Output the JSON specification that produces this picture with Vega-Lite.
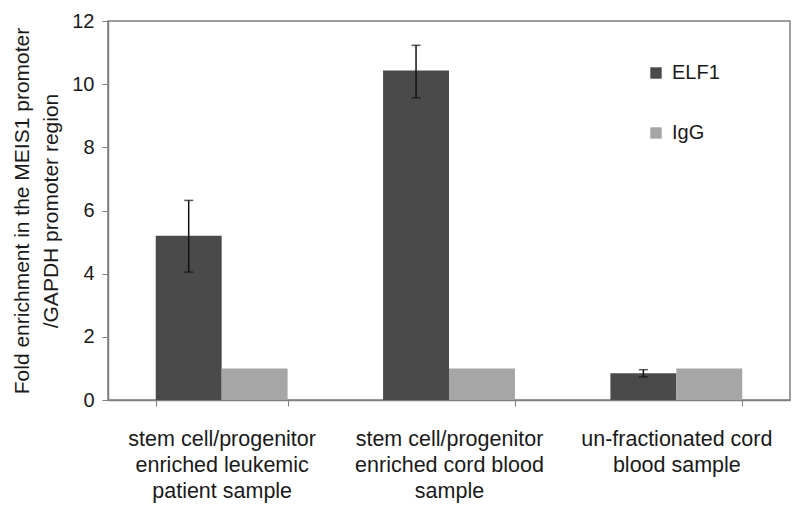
{
  "$schema": "https://vega.github.io/schema/vega-lite/v6.json",
  "width": 682,
  "height": 379,
  "autosize": "none",
  "padding": {"left": 108, "top": 21, "right": 10, "bottom": 112},
  "background": "white",
  "config": {
    "font": "Liberation Sans",
    "view": {"stroke": "#7f7f7f", "strokeWidth": 1.5}
  },
  "data": {
    "values": [
      {"sample": "stem cell/progenitor|enriched leukemic|patient sample", "antibody": "ELF1", "value": 5.2, "lo": 4.05, "hi": 6.32},
      {"sample": "stem cell/progenitor|enriched leukemic|patient sample", "antibody": "IgG", "value": 1.0},
      {"sample": "stem cell/progenitor|enriched cord blood|sample", "antibody": "ELF1", "value": 10.43, "lo": 9.57, "hi": 11.23},
      {"sample": "stem cell/progenitor|enriched cord blood|sample", "antibody": "IgG", "value": 1.0},
      {"sample": "un-fractionated cord|blood sample", "antibody": "ELF1", "value": 0.85, "lo": 0.73, "hi": 0.96},
      {"sample": "un-fractionated cord|blood sample", "antibody": "IgG", "value": 1.0}
    ]
  },
  "encoding": {
    "x": {
      "field": "sample",
      "type": "nominal",
      "sort": null,
      "scale": {"paddingInner": 0.42, "paddingOuter": 0.21},
      "axis": {
        "title": null,
        "labelAngle": 0,
        "labelExpr": "split(datum.label, '|')",
        "labelFontSize": 21.5,
        "labelColor": "#1a1a1a",
        "labelLineHeight": 26,
        "labelPadding": 22,
        "labelLimit": 300,
        "tickBand": "extent",
        "tickColor": "#7f7f7f",
        "tickSize": 6,
        "domainColor": "#7f7f7f",
        "domainWidth": 1.5
      }
    },
    "xOffset": {"field": "antibody", "type": "nominal", "scale": {"paddingInner": 0, "paddingOuter": 0}}
  },
  "layer": [
    {
      "mark": {"type": "bar"},
      "encoding": {
        "y": {
          "field": "value",
          "type": "quantitative",
          "scale": {"domain": [0, 12]},
          "axis": {
            "values": [0, 2, 4, 6, 8, 10, 12],
            "grid": false,
            "title": ["Fold enrichment in the MEIS1 promoter", "/GAPDH promoter region"],
            "titleFontSize": 21,
            "titleFontWeight": "normal",
            "titleColor": "#1a1a1a",
            "titlePadding": 10,
            "titleLineHeight": 29,
            "labelFontSize": 20,
            "labelColor": "#1a1a1a",
            "labelPadding": 8,
            "tickColor": "#7f7f7f",
            "tickSize": 6,
            "domainColor": "#7f7f7f",
            "domainWidth": 1.5
          }
        },
        "color": {
          "field": "antibody",
          "type": "nominal",
          "scale": {"domain": ["ELF1", "IgG"], "range": ["#4a4a4a", "#a6a6a6"]},
          "legend": {
            "title": null,
            "orient": "none",
            "legendX": 538,
            "legendY": 42,
            "symbolType": "square",
            "symbolSize": 130,
            "symbolStrokeWidth": 0,
            "labelFontSize": 20,
            "labelColor": "#1a1a1a",
            "rowPadding": 40,
            "labelOffset": 6
          }
        }
      }
    },
    {
      "transform": [{"filter": "datum.lo != null"}],
      "mark": {"type": "rule", "color": "#111111", "strokeWidth": 1.5},
      "encoding": {
        "y": {"field": "lo", "type": "quantitative"},
        "y2": {"field": "hi"}
      }
    },
    {
      "transform": [{"filter": "datum.lo != null"}],
      "mark": {"type": "tick", "color": "#111111", "thickness": 1.5, "size": 9, "orient": "horizontal"},
      "encoding": {"y": {"field": "lo", "type": "quantitative"}}
    },
    {
      "transform": [{"filter": "datum.lo != null"}],
      "mark": {"type": "tick", "color": "#111111", "thickness": 1.5, "size": 9, "orient": "horizontal"},
      "encoding": {"y": {"field": "hi", "type": "quantitative"}}
    }
  ]
}
